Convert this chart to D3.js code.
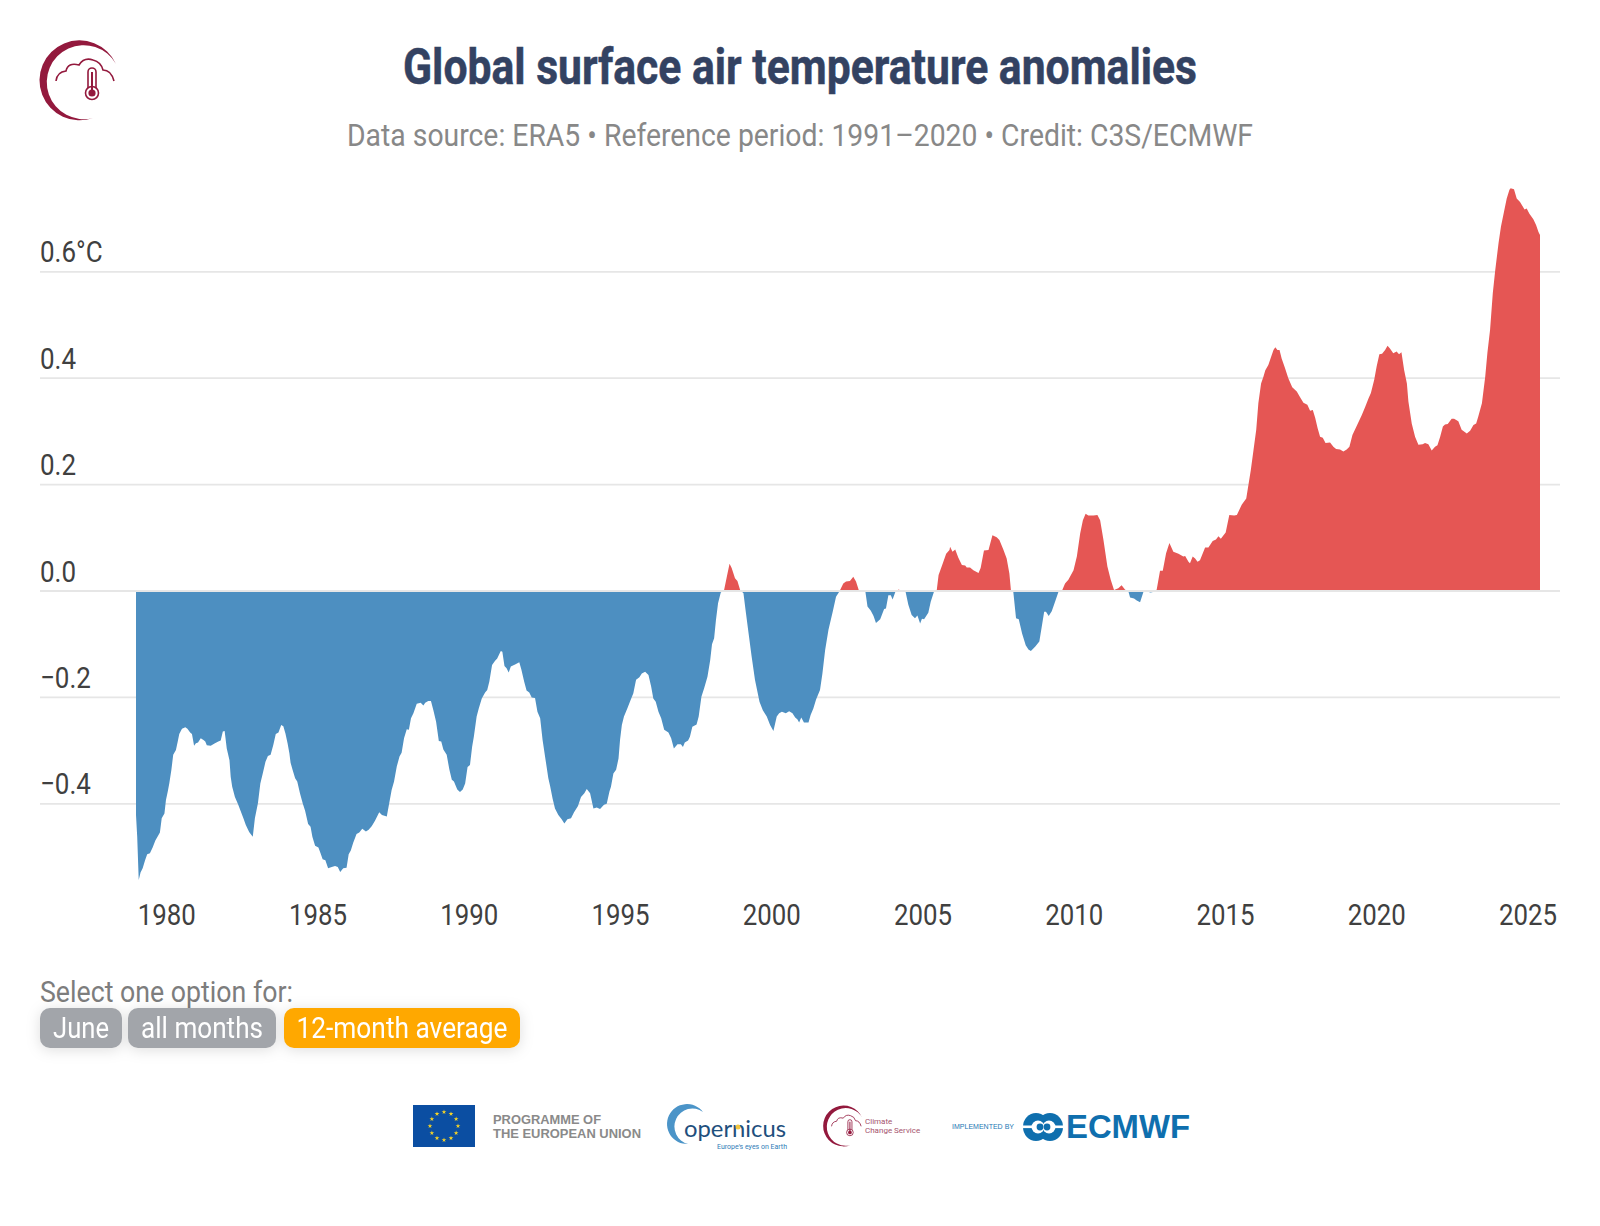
<!DOCTYPE html>
<html>
<head>
<meta charset="utf-8">
<title>Global surface air temperature anomalies</title>
<script src="https://cdn.jsdelivr.net/npm/d3@7"></script>
<style>
  html, body { margin: 0; background: #fff; }
  svg { display: block; font-family: Roboto, sans-serif; }
</style>
</head>
<body>
<svg id="chart" width="1600" height="1226"></svg>
<script>
// values
const years = [
  1979.00,1979.04,1979.09,1979.15,1979.22,1979.30,1979.37,1979.46,1979.55,1979.64,
  1979.73,1979.79,1979.85,1979.94,1979.99,1980.05,1980.10,1980.17,1980.23,1980.32,
  1980.38,1980.43,1980.52,1980.63,1980.70,1980.79,1980.85,1980.92,1980.98,1981.05,
  1981.14,1981.23,1981.29,1981.34,1981.47,1981.61,1981.72,1981.80,1981.87,1981.93,
  1982.00,1982.09,1982.13,1982.18,1982.27,1982.38,1982.49,1982.55,1982.63,1982.74,
  1982.86,1982.93,1983.03,1983.11,1983.19,1983.28,1983.36,1983.45,1983.54,1983.62,
  1983.71,1983.80,1983.87,1983.94,1984.01,1984.07,1984.11,1984.18,1984.26,1984.33,
  1984.42,1984.51,1984.59,1984.69,1984.77,1984.83,1984.92,1985.03,1985.10,1985.17,
  1985.26,1985.35,1985.47,1985.58,1985.67,1985.75,1985.85,1985.96,1986.03,1986.10,
  1986.18,1986.29,1986.38,1986.48,1986.60,1986.69,1986.79,1986.90,1987.04,1987.13,
  1987.29,1987.37,1987.45,1987.53,1987.62,1987.71,1987.78,1987.86,1987.95,1988.02,
  1988.09,1988.17,1988.28,1988.41,1988.50,1988.56,1988.66,1988.75,1988.83,1988.92,
  1989.01,1989.09,1989.16,1989.27,1989.36,1989.44,1989.51,1989.62,1989.71,1989.80,
  1989.88,1989.96,1990.04,1990.11,1990.17,1990.26,1990.33,1990.43,1990.54,1990.61,
  1990.68,1990.77,1990.87,1990.94,1991.03,1991.06,1991.11,1991.18,1991.25,1991.32,
  1991.39,1991.53,1991.67,1991.74,1991.83,1991.91,1992.00,1992.08,1992.19,1992.27,
  1992.36,1992.44,1992.54,1992.63,1992.69,1992.77,1992.85,1992.96,1993.07,1993.16,
  1993.26,1993.38,1993.48,1993.61,1993.71,1993.82,1993.90,1994.01,1994.12,1994.23,
  1994.34,1994.47,1994.56,1994.65,1994.70,1994.78,1994.87,1994.95,1995.00,1995.06,
  1995.13,1995.24,1995.35,1995.44,1995.53,1995.64,1995.72,1995.83,1995.94,1996.03,
  1996.10,1996.18,1996.27,1996.36,1996.46,1996.60,1996.69,1996.78,1996.90,1997.01,
  1997.08,1997.14,1997.25,1997.31,1997.39,1997.53,1997.60,1997.69,1997.78,1997.89,
  1997.98,1998.04,1998.11,1998.17,1998.24,1998.33,1998.44,1998.53,1998.62,1998.69,
  1998.80,1998.88,1998.97,1999.08,1999.15,1999.25,1999.35,1999.46,1999.61,1999.72,
  1999.85,1999.96,2000.07,2000.18,2000.26,2000.35,2000.48,2000.59,2000.70,2000.79,
  2000.86,2000.92,2000.99,2001.08,2001.23,2001.30,2001.39,2001.48,2001.61,2001.69,
  2001.78,2001.89,2002.03,2002.14,2002.25,2002.38,2002.47,2002.60,2002.71,2002.80,
  2002.89,2003.02,2003.11,2003.18,2003.29,2003.38,2003.46,2003.60,2003.73,2003.79,
  2003.87,2003.95,2004.01,2004.10,2004.21,2004.31,2004.44,2004.53,2004.64,2004.75,
  2004.83,2004.92,2004.98,2005.05,2005.19,2005.27,2005.38,2005.47,2005.53,2005.67,
  2005.78,2005.89,2005.91,2005.99,2006.08,2006.18,2006.30,2006.41,2006.46,2006.57,
  2006.68,2006.85,2006.92,2007.03,2007.18,2007.31,2007.45,2007.54,2007.67,2007.78,
  2007.87,2007.92,2008.00,2008.09,2008.18,2008.29,2008.41,2008.50,2008.58,2008.72,
  2008.86,2008.94,2009.02,2009.08,2009.17,2009.27,2009.38,2009.49,2009.62,2009.71,
  2009.82,2009.99,2010.10,2010.21,2010.30,2010.39,2010.48,2010.65,2010.78,2010.87,
  2010.98,2011.11,2011.22,2011.33,2011.47,2011.58,2011.69,2011.81,2011.86,2011.99,
  2012.08,2012.19,2012.30,2012.41,2012.54,2012.69,2012.74,2012.85,2012.94,2013.05,
  2013.16,2013.29,2013.46,2013.62,2013.68,2013.79,2013.84,2013.93,2014.01,2014.09,
  2014.17,2014.34,2014.45,2014.59,2014.70,2014.78,2014.86,2015.02,2015.14,2015.30,
  2015.39,2015.55,2015.70,2015.77,2015.85,2015.94,2016.03,2016.10,2016.19,2016.27,
  2016.33,2016.43,2016.52,2016.60,2016.66,2016.73,2016.80,2016.87,2016.98,2017.09,
  2017.22,2017.37,2017.48,2017.59,2017.72,2017.81,2017.90,2017.98,2018.06,2018.14,
  2018.23,2018.32,2018.47,2018.58,2018.67,2018.80,2018.91,2019.02,2019.11,2019.21,
  2019.35,2019.52,2019.63,2019.74,2019.82,2019.93,2020.01,2020.10,2020.19,2020.29,
  2020.37,2020.45,2020.56,2020.67,2020.75,2020.83,2020.92,2021.01,2021.06,2021.17,
  2021.28,2021.39,2021.53,2021.61,2021.72,2021.83,2021.94,2022.02,2022.11,2022.20,
  2022.27,2022.36,2022.49,2022.57,2022.71,2022.82,2022.99,2023.10,2023.21,2023.30,
  2023.37,2023.49,2023.60,2023.67,2023.76,2023.85,2023.93,2024.04,2024.12,2024.22,
  2024.31,2024.40,2024.44,2024.55,2024.64,2024.75,2024.90,2024.97,2025.06,2025.19,
  2025.28,2025.36,2025.41
];
const anomalies = [
  -0.421,-0.462,-0.543,-0.529,-0.521,-0.506,-0.495,-0.493,-0.482,-0.469,
  -0.460,-0.454,-0.427,-0.418,-0.393,-0.377,-0.362,-0.336,-0.308,-0.299,
  -0.283,-0.269,-0.259,-0.256,-0.259,-0.266,-0.269,-0.291,-0.286,-0.285,
  -0.277,-0.280,-0.283,-0.290,-0.291,-0.286,-0.283,-0.281,-0.264,-0.263,
  -0.296,-0.318,-0.349,-0.368,-0.387,-0.402,-0.418,-0.427,-0.440,-0.453,
  -0.462,-0.427,-0.399,-0.362,-0.343,-0.321,-0.310,-0.308,-0.289,-0.269,
  -0.266,-0.252,-0.254,-0.268,-0.286,-0.305,-0.323,-0.337,-0.352,-0.358,
  -0.380,-0.399,-0.413,-0.438,-0.443,-0.462,-0.479,-0.482,-0.493,-0.504,
  -0.506,-0.521,-0.519,-0.517,-0.519,-0.528,-0.521,-0.520,-0.495,-0.488,
  -0.473,-0.457,-0.454,-0.447,-0.452,-0.449,-0.442,-0.432,-0.416,-0.421,
  -0.424,-0.399,-0.374,-0.358,-0.330,-0.311,-0.304,-0.277,-0.260,-0.261,
  -0.239,-0.230,-0.212,-0.210,-0.215,-0.210,-0.207,-0.207,-0.224,-0.246,
  -0.282,-0.283,-0.298,-0.308,-0.336,-0.355,-0.358,-0.373,-0.378,-0.373,
  -0.362,-0.331,-0.327,-0.293,-0.273,-0.236,-0.221,-0.202,-0.191,-0.186,
  -0.170,-0.139,-0.131,-0.127,-0.116,-0.113,-0.114,-0.141,-0.145,-0.153,
  -0.142,-0.138,-0.134,-0.148,-0.170,-0.187,-0.191,-0.200,-0.201,-0.227,
  -0.239,-0.280,-0.318,-0.352,-0.367,-0.390,-0.409,-0.421,-0.429,-0.437,
  -0.429,-0.427,-0.416,-0.404,-0.387,-0.380,-0.372,-0.380,-0.409,-0.407,
  -0.410,-0.402,-0.400,-0.377,-0.368,-0.343,-0.336,-0.315,-0.280,-0.252,
  -0.236,-0.221,-0.205,-0.192,-0.167,-0.162,-0.155,-0.152,-0.158,-0.180,
  -0.202,-0.208,-0.227,-0.239,-0.261,-0.266,-0.277,-0.296,-0.288,-0.288,
  -0.293,-0.285,-0.281,-0.274,-0.255,-0.251,-0.236,-0.199,-0.183,-0.161,
  -0.130,-0.100,-0.089,-0.055,-0.023,-0.003,0.002,0.027,0.051,0.043,
  0.024,0.019,0.002,-0.004,-0.036,-0.080,-0.123,-0.167,-0.208,-0.224,
  -0.236,-0.252,-0.263,-0.236,-0.230,-0.227,-0.230,-0.226,-0.230,-0.238,
  -0.241,-0.247,-0.238,-0.247,-0.247,-0.233,-0.221,-0.204,-0.186,-0.155,
  -0.111,-0.073,-0.039,-0.011,-0.001,0.014,0.018,0.019,0.027,0.018,
  0.002,-0.001,-0.001,-0.029,-0.037,-0.047,-0.060,-0.053,-0.034,-0.033,
  -0.008,-0.008,-0.016,-0.002,0.003,0.000,-0.002,-0.026,-0.045,-0.051,
  -0.046,-0.061,-0.052,-0.053,-0.041,-0.020,-0.001,0.002,0.030,0.052,
  0.070,0.077,0.083,0.074,0.078,0.063,0.049,0.048,0.044,0.044,
  0.039,0.034,0.043,0.076,0.077,0.105,0.101,0.096,0.078,0.061,
  0.033,0.002,-0.002,-0.051,-0.053,-0.080,-0.102,-0.110,-0.113,-0.105,
  -0.095,-0.067,-0.039,-0.039,-0.047,-0.038,-0.020,-0.002,0.002,0.014,
  0.021,0.039,0.065,0.108,0.133,0.145,0.142,0.142,0.143,0.133,
  0.096,0.046,0.021,0.002,0.005,0.011,0.003,-0.002,-0.012,-0.014,
  -0.018,-0.021,-0.002,-0.001,-0.003,-0.001,0.003,0.038,0.038,0.071,
  0.090,0.074,0.070,0.065,0.066,0.055,0.052,0.065,0.061,0.055,
  0.058,0.082,0.082,0.094,0.097,0.103,0.098,0.110,0.143,0.142,
  0.143,0.162,0.174,0.199,0.227,0.265,0.303,0.353,0.390,0.403,
  0.415,0.425,0.440,0.453,0.458,0.453,0.453,0.437,0.419,0.400,
  0.383,0.375,0.364,0.354,0.350,0.339,0.340,0.325,0.306,0.290,
  0.288,0.278,0.279,0.271,0.267,0.266,0.262,0.266,0.271,0.293,
  0.310,0.331,0.346,0.362,0.372,0.397,0.422,0.445,0.446,0.453,
  0.461,0.456,0.447,0.450,0.445,0.449,0.415,0.390,0.356,0.315,
  0.290,0.275,0.276,0.278,0.276,0.264,0.271,0.274,0.290,0.309,
  0.313,0.314,0.324,0.324,0.319,0.303,0.296,0.301,0.312,0.315,
  0.328,0.353,0.403,0.447,0.491,0.560,0.603,0.654,0.685,0.713,
  0.738,0.754,0.757,0.755,0.738,0.731,0.717,0.719,0.709,0.699,
  0.688,0.675,0.669
];
const yearTicks = [1980,1985,1990,1995,2000,2005,2010,2015,2020,2025];
const tempTicks = [-0.4,-0.2,0,0.2,0.4,0.6];
const buttons = ["June","all months","12-month average"];

const svg = d3.select('#chart');
const series = years.map((year, i) => ({year: year, value: anomalies[i]}));

const x = d3.scaleLinear().domain([1979, 2025.41]).range([136, 1540]);
const y = d3.scaleLinear().domain([-0.6, 0.6]).range([910.2, 271.8]);

// Roboto Condensed is not installed, so squeeze Roboto to the measured width
function squeeze(sel, width) {
  sel.attr('textLength', width).attr('lengthAdjust', 'spacingAndGlyphs');
  return sel;
}
function squeezeBy(sel, factor) {
  sel.each(function() {
    d3.select(this)
      .attr('textLength', this.getComputedTextLength() * factor)
      .attr('lengthAdjust', 'spacingAndGlyphs');
  });
}

// grid
const gridColor = '#e6e6e6';
const gridLeft = 40, gridRight = 1560;
svg.append('g').selectAll('line')
  .data(tempTicks.filter(d => d !== 0))
  .enter().append('line')
  .attr('x1', gridLeft).attr('x2', gridRight)
  .attr('y1', d => y(d)).attr('y2', d => y(d))
  .attr('stroke', gridColor).attr('stroke-width', 1.8);

// area, split into above and below zero
const defs = svg.append('defs');
defs.append('clipPath').attr('id', 'above').append('rect')
  .attr('x', x.range()[0]).attr('width', x.range()[1] - x.range()[0])
  .attr('y', 0).attr('height', y(0));
defs.append('clipPath').attr('id', 'below').append('rect')
  .attr('x', x.range()[0]).attr('width', x.range()[1] - x.range()[0])
  .attr('y', y(0)).attr('height', 1226 - y(0));

const area = d3.area()
  .x(d => x(d.year))
  .y0(y(0))
  .y1(d => y(d.value));

svg.append('path').datum(series)
  .attr('d', area).attr('fill', '#e55654').attr('clip-path', 'url(#above)');
svg.append('path').datum(series)
  .attr('d', area).attr('fill', '#4d8fc1').attr('clip-path', 'url(#below)');

// zero line sits over the fill
svg.append('line')
  .attr('x1', gridLeft).attr('x2', gridRight)
  .attr('y1', y(0)).attr('y2', y(0))
  .attr('stroke', gridColor).attr('stroke-width', 1.8);

// x axis
const xAxis = svg.append('g')
  .attr('transform', 'translate(0,897)')
  .call(d3.axisBottom(x).tickValues(yearTicks).tickFormat(d3.format('d')).tickSize(0).tickPadding(0));
xAxis.select('.domain').remove();
xAxis.selectAll('text')
  .attr('y', 28).attr('dy', 0)
  .attr('font-family', 'Roboto').attr('font-size', 30).attr('fill', '#404040');
squeezeBy(xAxis.selectAll('text'), 0.86);

// y axis, labels sit above the grid lines at the left
const yAxis = svg.append('g')
  .attr('transform', 'translate(40,0)')
  .call(d3.axisRight(y).tickValues(tempTicks).tickSize(0).tickPadding(0)
    .tickFormat(d => d === 0.6 ? '0.6°C' : d3.format('.1f')(d)));
yAxis.select('.domain').remove();
yAxis.selectAll('text')
  .attr('x', 0).attr('y', -10).attr('dy', 0)
  .attr('text-anchor', 'start')
  .attr('font-family', 'Roboto').attr('font-size', 30).attr('fill', '#404040');
squeezeBy(yAxis.selectAll('text'), 0.865);

// titles
squeeze(svg.append('text').attr('x', 800).attr('y', 84)
  .attr('text-anchor', 'middle').attr('font-size', 50).attr('font-weight', 700)
  .attr('fill', '#334262').attr('stroke', '#334262').attr('stroke-width', 0.5)
  .text('Global surface air temperature anomalies'), 794);
squeeze(svg.append('text').attr('x', 800).attr('y', 146)
  .attr('text-anchor', 'middle').attr('font-size', 32)
  .attr('fill', '#888888').text('Data source: ERA5 • Reference period: 1991–2020 • Credit: C3S/ECMWF'), 906);

// option buttons
squeeze(svg.append('text').attr('x', 40).attr('y', 1002)
  .attr('font-size', 30).attr('fill', '#7d7d7d').text('Select one option for:'), 253);
const buttonX = [40, 128, 284], buttonW = [82, 148, 236], buttonText = [56, 122, 211];
const btn = svg.append('g').style('filter', 'drop-shadow(0 2px 7px rgba(0,0,0,0.13))')
  .selectAll('g').data(buttons).enter().append('g')
  .attr('transform', (d, i) => `translate(${buttonX[i]},1008)`);
btn.append('rect')
  .attr('width', (d, i) => buttonW[i]).attr('height', 40).attr('rx', 10)
  .attr('fill', (d, i) => i === 2 ? '#ffa800' : '#a2a5aa');
btn.append('text')
  .attr('x', (d, i) => buttonW[i] / 2).attr('y', 30)
  .attr('text-anchor', 'middle').attr('font-size', 30).attr('fill', '#fff')
  .attr('textLength', (d, i) => buttonText[i]).attr('lengthAdjust', 'spacingAndGlyphs')
  .text(d => d);

// Climate Change Service emblem
function emblem(g) {
  const c = '#93193d';
  g.append('path').attr('fill', c)
    .attr('d', 'M116,64 A40,40 0 1 0 93,118 A37,37 0 1 1 116,64 Z');
  g.append('path').attr('fill', 'none').attr('stroke', c).attr('stroke-width', 1.6)
    .attr('d', 'M56,81 Q57,72 66,71 Q68,62 79,65 Q84,57 93,60 Q101,62 103,70 Q111,70 114,81');
  g.append('rect').attr('x', 88).attr('y', 68).attr('width', 8).attr('height', 28).attr('rx', 4)
    .attr('fill', '#fff').attr('stroke', c).attr('stroke-width', 1.6);
  g.append('circle').attr('cx', 92).attr('cy', 93).attr('r', 6.5)
    .attr('fill', '#fff').attr('stroke', c).attr('stroke-width', 1.6);
  g.append('rect').attr('x', 91).attr('y', 72).attr('width', 2).attr('height', 20).attr('fill', c);
  g.append('circle').attr('cx', 92).attr('cy', 93).attr('r', 3.6).attr('fill', c);
}
emblem(svg.append('g'));
emblem(svg.append('g').attr('transform', 'translate(803,1085) scale(0.51)'));

// footer logos
svg.append('rect').attr('x', 413).attr('y', 1105).attr('width', 62).attr('height', 42).attr('fill', '#0b4ea2');
const star = d3.symbol().type(d3.symbolStar).size(7);
svg.append('g').selectAll('path').data(d3.range(12)).enter().append('path')
  .attr('d', star).attr('fill', '#f5d327')
  .attr('transform', d => {
    const a = d / 12 * 2 * Math.PI;
    return `translate(${444 + 14 * Math.sin(a)},${1126 - 14 * Math.cos(a)})`;
  });
const footer = [
  {t: 'PROGRAMME OF', x: 493, y: 1123.5, s: 12, w: 108},
  {t: 'THE EUROPEAN UNION', x: 493, y: 1138, s: 12, w: 148}
];
footer.forEach(f => {
  squeeze(svg.append('text').attr('x', f.x).attr('y', f.y)
    .attr('font-family', 'Liberation Sans').attr('font-weight', 700).attr('font-size', f.s)
    .attr('fill', '#8a8a8a').text(f.t), f.w);
});

// Copernicus
svg.append('path').attr('fill', '#4b94c8')
  .attr('d', 'M703,1112 A20,20 0 1 0 688,1144 A18,18 0 1 1 703,1112 Z');
squeeze(svg.append('text').attr('x', 684).attr('y', 1136.5)
  .attr('font-family', 'Lato').attr('font-size', 23).attr('fill', '#1f4f7d').text('opernicus'), 102);
svg.append('circle').attr('cx', 738).attr('cy', 1127).attr('r', 2.5).attr('fill', '#f3c63f');
squeeze(svg.append('text').attr('x', 717).attr('y', 1149)
  .attr('font-size', 8).attr('fill', '#2f7db7').text("Europe's eyes on Earth"), 70);

// C3S wordmark
svg.append('text').attr('x', 865).attr('y', 1124)
  .attr('font-size', 8).attr('fill', '#a5536e').text('Climate');
svg.append('text').attr('x', 865).attr('y', 1132.5)
  .attr('font-size', 8).attr('fill', '#a5536e').text('Change Service');

// ECMWF
squeeze(svg.append('text').attr('x', 952).attr('y', 1129)
  .attr('font-family', 'Liberation Sans').attr('font-size', 7.5).attr('fill', '#1d78b4')
  .text('IMPLEMENTED BY'), 62);
const ec = svg.append('g');
ec.append('ellipse').attr('cx', 1036).attr('cy', 1127).attr('rx', 13).attr('ry', 14).attr('fill', '#0f6fae');
ec.append('ellipse').attr('cx', 1050).attr('cy', 1127).attr('rx', 13).attr('ry', 14).attr('fill', '#0f6fae');
ec.append('circle').attr('cx', 1038).attr('cy', 1127).attr('r', 6.5).attr('fill', '#fff');
ec.append('circle').attr('cx', 1049).attr('cy', 1127).attr('r', 6.5).attr('fill', '#fff');
ec.append('circle').attr('cx', 1040).attr('cy', 1127).attr('r', 3.4).attr('fill', '#0f6fae');
ec.append('circle').attr('cx', 1047).attr('cy', 1127).attr('r', 3.4).attr('fill', '#0f6fae');
ec.append('rect').attr('x', 1022).attr('y', 1125.5).attr('width', 11).attr('height', 2.6).attr('fill', '#fff');
ec.append('rect').attr('x', 1054).attr('y', 1125.5).attr('width', 10).attr('height', 2.6).attr('fill', '#fff');
squeeze(svg.append('text').attr('x', 1066).attr('y', 1138)
  .attr('font-family', 'Liberation Sans').attr('font-weight', 700).attr('font-size', 33)
  .attr('fill', '#0f6fae').text('ECMWF'), 124);
</script>
</body>
</html>
